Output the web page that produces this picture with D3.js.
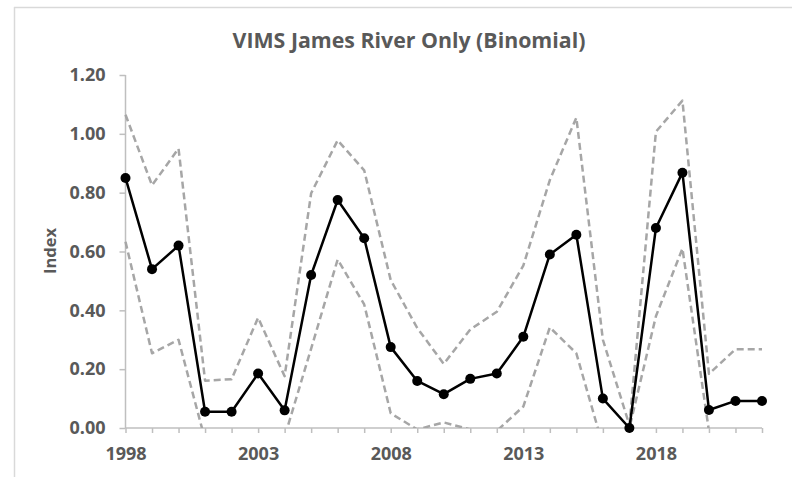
<!DOCTYPE html>
<html>
<head>
<meta charset="utf-8">
<script src="https://cdn.jsdelivr.net/npm/d3@7"></script>
<style>
  html, body { margin: 0; padding: 0; background: #fff; }
  svg { display: block; }
</style>
</head>
<body>
<svg id="chart" width="792" height="477"></svg>
<script>
const years = [1998,1999,2000,2001,2002,2003,2004,2005,2006,2007,2008,2009,2010,2011,2012,2013,2014,2015,2016,2017,2018,2019,2020,2021,2022];
const indexValues = [0.85,0.54,0.62,0.055,0.055,0.185,0.06,0.52,0.775,0.645,0.275,0.16,0.115,0.167,0.185,0.31,0.59,0.657,0.10,0.0,0.68,0.868,0.061,0.092,0.092];
const upperCI = [1.065,0.825,0.95,0.161,0.166,0.375,0.176,0.798,0.978,0.876,0.503,0.34,0.218,0.335,0.395,0.552,0.843,1.055,0.30,0.01,1.007,1.113,0.184,0.268,0.268];
const lowerCI = [0.633,0.254,0.30,-0.04,-0.05,-0.03,-0.03,0.27,0.573,0.42,0.05,-0.005,0.019,-0.005,-0.01,0.073,0.342,0.254,-0.06,0.0,0.38,0.61,-0.01,-0.09,-0.09];
const yTicks = [0,0.2,0.4,0.6,0.8,1.0,1.2];
const xLabelYears = [1998,2003,2008,2013,2018];
const titleText = "VIMS James River Only (Binomial)";
const yLabel = "Index";

const svg = d3.select("#chart");
const textColor = "#595959";
const axisColor = "#bfbfbf";
const font = "'Open Sans', 'Liberation Sans', sans-serif";

// chart border (top and left visible)
svg.append("line").attr("x1",14).attr("x2",792).attr("y1",7.5).attr("y2",7.5).attr("stroke","#d9d9d9").attr("stroke-width",1.5);
svg.append("line").attr("x1",14.5).attr("x2",14.5).attr("y1",7).attr("y2",477).attr("stroke","#d9d9d9").attr("stroke-width",1.5);

const x = d3.scaleLinear().domain([1998,2022]).range([125.5,762]);
const y = d3.scaleLinear().domain([0,1.2]).range([428,75]);

// title
const title = svg.append("text")
  .attr("x",409).attr("y",48)
  .attr("text-anchor","middle")
  .attr("font-family",font).attr("font-weight",700)
  .attr("font-size",19).attr("fill",textColor)
  .text(titleText);
const tw = title.node().getComputedTextLength();
title.attr("font-size", 19*353/tw);

// y axis
const yAxis = svg.append("g").attr("transform","translate(125.5,0)")
  .call(d3.axisLeft(y).tickValues(yTicks).tickFormat(d3.format(".2f")).tickSize(6).tickPadding(14));
yAxis.select(".domain").attr("stroke",axisColor).attr("stroke-width",1.5).attr("d","M0,"+y(1.2)+"V"+y(0));
yAxis.selectAll(".tick line").attr("stroke",axisColor).attr("stroke-width",1.5);
yAxis.selectAll(".tick text").attr("font-family",font).attr("font-weight",700).attr("font-size",18).attr("fill",textColor);

// x axis
const xAxis = svg.append("g").attr("transform","translate(0,428)")
  .call(d3.axisBottom(x).tickValues(years).tickFormat(d => xLabelYears.includes(d) ? String(d) : "").tickSize(5).tickPadding(14));
xAxis.select(".domain").attr("stroke",axisColor).attr("stroke-width",1.5).attr("d","M"+x(1998)+",0H"+x(2022));
xAxis.selectAll(".tick line").attr("stroke",axisColor).attr("stroke-width",1.5);
xAxis.selectAll(".tick text").attr("font-family",font).attr("font-weight",700).attr("font-size",18).attr("fill",textColor);

// y label
svg.append("text")
  .attr("transform","translate(56,251) rotate(-90)")
  .attr("text-anchor","middle")
  .attr("font-family",font).attr("font-weight",700)
  .attr("font-size",16.5).attr("fill",textColor)
  .text(yLabel);

// clip for plot area
svg.append("clipPath").attr("id","plotClip")
  .append("rect").attr("x",100).attr("y",60).attr("width",692).attr("height",y(0)-60);

const line = d3.line().x((d,i)=>x(years[i])).y(d=>y(d));

const ciG = svg.append("g").attr("clip-path","url(#plotClip)");
[upperCI, lowerCI].forEach(arr => {
  ciG.append("path").datum(arr)
    .attr("d",line)
    .attr("fill","none")
    .attr("stroke","#a6a6a6")
    .attr("stroke-width",2.5)
    .attr("stroke-dasharray","7,4")
    .attr("stroke-linejoin","round");
});

svg.append("path").datum(indexValues)
  .attr("d",line)
  .attr("fill","none")
  .attr("stroke","#000")
  .attr("stroke-width",2.5)
  .attr("stroke-linejoin","round");

svg.append("g").selectAll("circle").data(indexValues).join("circle")
  .attr("cx",(d,i)=>x(years[i]))
  .attr("cy",d=>y(d))
  .attr("r",5)
  .attr("fill","#000");
</script>
</body>
</html>
